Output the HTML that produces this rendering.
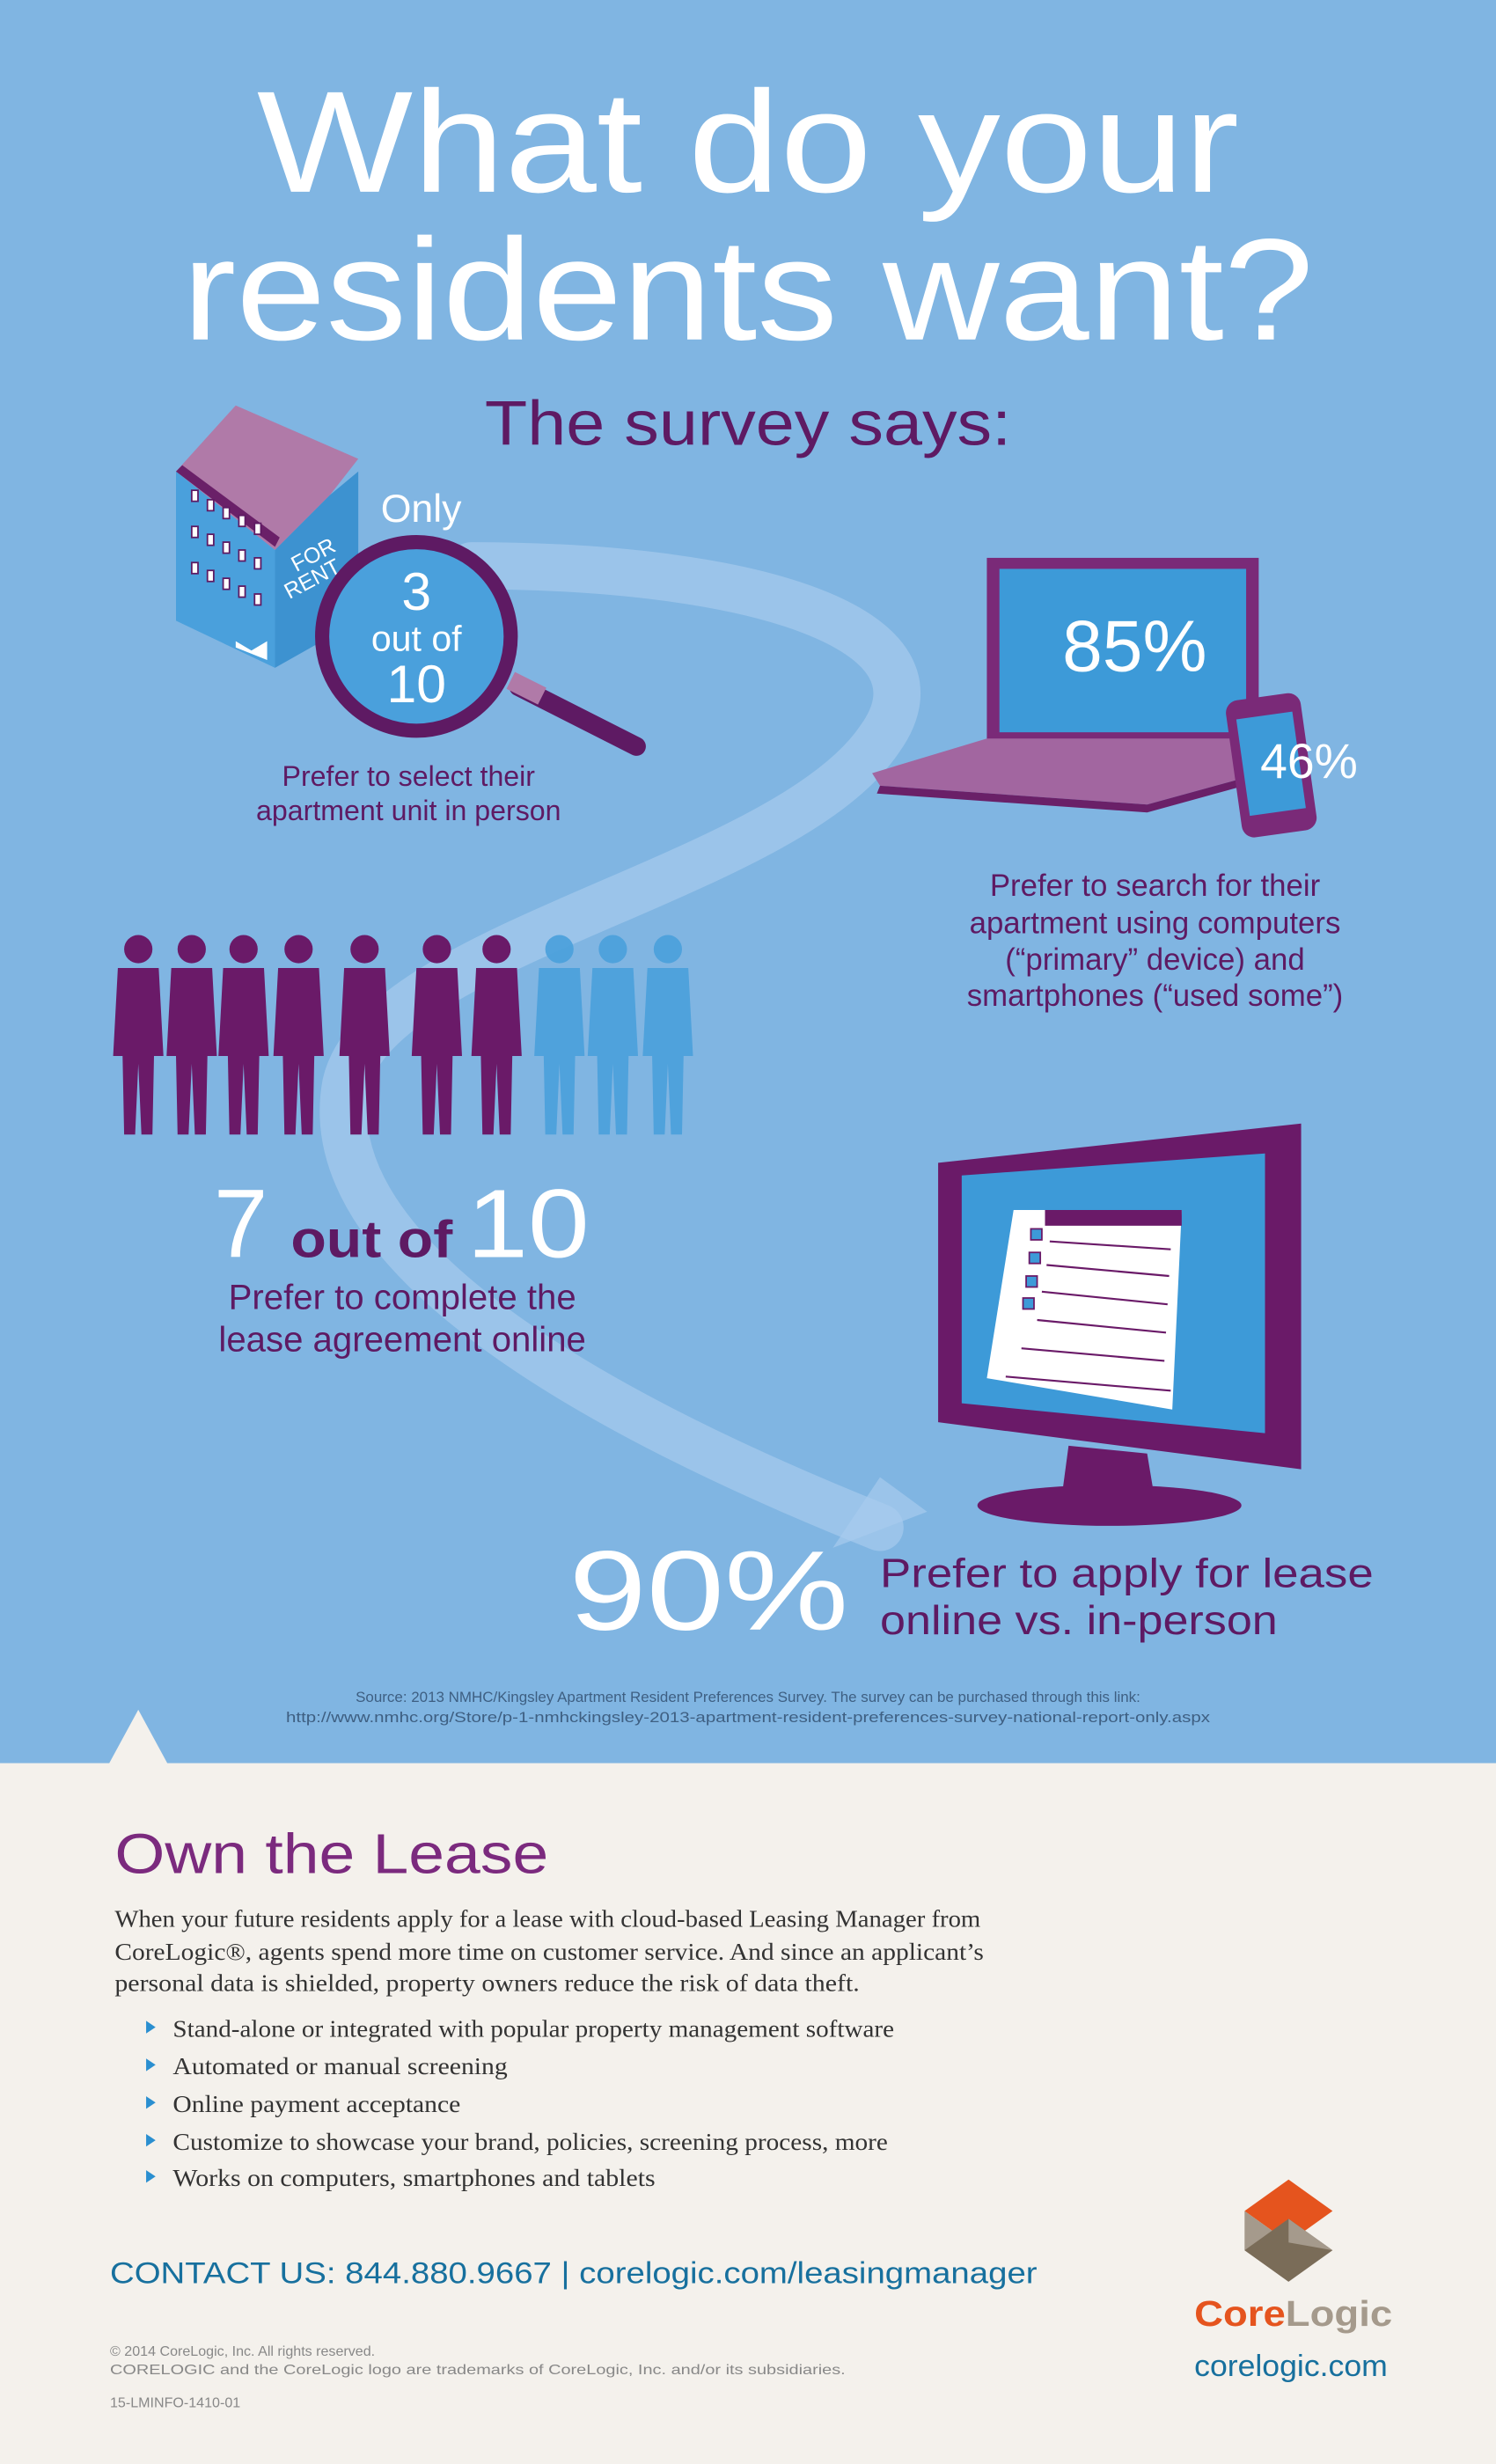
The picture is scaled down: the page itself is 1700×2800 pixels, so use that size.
<!DOCTYPE html>
<html><head><meta charset="utf-8"><style>
html,body{margin:0;padding:0;width:1700px;height:2800px;overflow:hidden;background:#80b5e2}
svg{display:block}
text{font-family:"Liberation Sans",sans-serif}
.s{font-family:"Liberation Serif",serif}
</style></head><body>
<svg width="1700" height="2800" viewBox="0 0 952 1568" preserveAspectRatio="none" xmlns="http://www.w3.org/2000/svg">
<rect x="0" y="0" width="952" height="1122" fill="#80b5e2"/>
<!-- swoosh -->
<path d="M300,360 C480,360 610,400 560,470 C500,560 240,600 220,690 C200,800 380,900 560,972" fill="none" stroke="#a9cdee" stroke-width="30" stroke-linecap="round" opacity="0.65"/>
<polygon points="530,985 590,962 560,940" fill="#a9cdee" opacity="0.65"/>
<!-- title -->
<text x="476" y="122" text-anchor="middle" font-size="92" fill="#fff" textLength="625" lengthAdjust="spacingAndGlyphs">What do your</text>
<text x="476" y="216" text-anchor="middle" font-size="92" fill="#fff" textLength="720" lengthAdjust="spacingAndGlyphs">residents want?</text>
<text x="476" y="283" text-anchor="middle" font-size="40" fill="#5e1a63" textLength="335" lengthAdjust="spacingAndGlyphs">The survey says:</text>
<!-- building -->
<polygon points="112,300 150,258 228,292 210,315 175,350" fill="#b07aa8"/>
<polygon points="112,300 175,350 175,425 112,395" fill="#4aa0dc"/>
<polygon points="175,350 210,315 228,300 228,395 175,425" fill="#3d92d0"/>
<polygon points="112,300 175,348 178,342 116,296" fill="#6a2068"/>
<g fill="#fff" stroke="#5e1a63" stroke-width="1">
<rect x="122" y="312" width="4" height="7"/><rect x="132" y="318" width="4" height="7"/><rect x="142" y="323" width="4" height="7"/><rect x="152" y="328" width="4" height="7"/><rect x="162" y="333" width="4" height="7"/>
<rect x="122" y="335" width="4" height="7"/><rect x="132" y="340" width="4" height="7"/><rect x="142" y="345" width="4" height="7"/><rect x="152" y="350" width="4" height="7"/><rect x="162" y="355" width="4" height="7"/>
<rect x="122" y="358" width="4" height="7"/><rect x="132" y="363" width="4" height="7"/><rect x="142" y="368" width="4" height="7"/><rect x="152" y="373" width="4" height="7"/><rect x="162" y="378" width="4" height="7"/>
</g>
<polygon points="150,408 160,414 170,408 170,420 150,412" fill="#fff"/>
<text x="185" y="360" font-size="14" fill="#fff" transform="rotate(-28 195 355)">FOR</text>
<text x="180" y="375" font-size="14" fill="#fff" transform="rotate(-28 195 370)">RENT</text>
<!-- magnifier -->
<line x1="330" y1="437" x2="405" y2="475" stroke="#5e1a63" stroke-width="12" stroke-linecap="round"/>
<line x1="325" y1="433" x2="345" y2="443" stroke="#b07aa8" stroke-width="12"/>
<circle cx="265" cy="405" r="60" fill="#4aa0dc" stroke="#5e1a63" stroke-width="9"/>
<text x="268" y="332" text-anchor="middle" font-size="25" fill="#fff">Only</text>
<text x="265" y="388" text-anchor="middle" font-size="34" fill="#fff">3</text>
<text x="265" y="414" text-anchor="middle" font-size="23" fill="#fff">out of</text>
<text x="265" y="447" text-anchor="middle" font-size="34" fill="#fff">10</text>
<text x="260" y="500" text-anchor="middle" font-size="18" fill="#5e1a63">Prefer to select their</text>
<text x="260" y="522" text-anchor="middle" font-size="18" fill="#5e1a63">apartment unit in person</text>
<!-- laptop -->
<rect x="628" y="355" width="173" height="118" fill="#7a2a78"/>
<rect x="636" y="362" width="157" height="104" fill="#3d9ad8"/>
<polygon points="555,492 628,470 800,470 810,490 730,512 560,500" fill="#a266a0"/>
<polygon points="560,500 730,512 810,490 810,495 730,517 558,505" fill="#6a2068"/>
<text x="722" y="427" text-anchor="middle" font-size="46" fill="#fff">85%</text>
<rect x="785" y="443" width="48" height="88" rx="8" fill="#7a2a78" transform="rotate(-8 809 487)"/>
<rect x="791" y="455" width="36" height="62" fill="#3d9ad8" transform="rotate(-8 809 487)"/>
<text x="833" y="495" text-anchor="middle" font-size="31" fill="#fff">46%</text>
<text x="735" y="570" text-anchor="middle" font-size="19.5" fill="#5e1a63">Prefer to search for their</text>
<text x="735" y="594" text-anchor="middle" font-size="19.5" fill="#5e1a63">apartment using computers</text>
<text x="735" y="617" text-anchor="middle" font-size="19.5" fill="#5e1a63">(“primary” device) and</text>
<text x="735" y="640" text-anchor="middle" font-size="19.5" fill="#5e1a63">smartphones (“used some”)</text>
<!-- people -->
<g fill="#6a1a68">
<g id="p"><circle cx="0" cy="-118" r="9"/><path d="M-13,-106 L13,-106 L16,-50 L10,-50 L9,0 L2,0 L0,-45 L-2,0 L-9,0 L-10,-50 L-16,-50 Z"/></g>
</g>
<g fill="#6a1a68">
<use href="#p" x="88" y="722"/><use href="#p" x="122" y="722"/><use href="#p" x="155" y="722"/><use href="#p" x="190" y="722"/><use href="#p" x="232" y="722"/><use href="#p" x="278" y="722"/><use href="#p" x="316" y="722"/>
</g>
<g fill="#4aa0dc" opacity="0.9"><use href="#p" x="356" y="722"/><use href="#p" x="390" y="722"/><use href="#p" x="425" y="722"/></g>
<text x="136" y="800" font-size="62" fill="#fff">7</text>
<text x="185" y="800" font-size="33" fill="#5e1a63" font-weight="bold" textLength="103" lengthAdjust="spacingAndGlyphs">out of</text>
<text x="297" y="800" font-size="62" fill="#fff" textLength="78" lengthAdjust="spacingAndGlyphs">10</text>
<text x="256" y="833" text-anchor="middle" font-size="22.5" fill="#5e1a63">Prefer to complete the</text>
<text x="256" y="860" text-anchor="middle" font-size="22.5" fill="#5e1a63">lease agreement online</text>
<!-- monitor -->
<polygon points="597,740 828,715 828,935 597,905" fill="#6a1a68"/>
<polygon points="612,748 805,734 805,912 612,893" fill="#3d9ad8"/>
<polygon points="680,920 730,925 735,955 676,950" fill="#6a1a68"/>
<ellipse cx="706" cy="958" rx="84" ry="13" fill="#6a1a68"/>
<polygon points="645,770 752,770 746,897 628,877" fill="#fff"/>
<rect x="665" y="770" width="87" height="10" fill="#6a1a68"/>
<g stroke="#6a1a68" stroke-width="1.2">
<line x1="668" y1="790" x2="745" y2="795"/><line x1="666" y1="805" x2="744" y2="812"/><line x1="663" y1="822" x2="743" y2="830"/><line x1="660" y1="840" x2="742" y2="848"/><line x1="650" y1="858" x2="741" y2="866"/><line x1="640" y1="876" x2="745" y2="885"/>
</g>
<g fill="#3d9ad8" stroke="#6a1a68" stroke-width="1"><rect x="656" y="782" width="7" height="7"/><rect x="655" y="797" width="7" height="7"/><rect x="653" y="812" width="7" height="7"/><rect x="651" y="826" width="7" height="7"/></g>
<text x="362" y="1037" font-size="72" fill="#fff" textLength="178" lengthAdjust="spacingAndGlyphs">90%</text>
<text x="560" y="1010" font-size="26" fill="#5e1a63" textLength="314" lengthAdjust="spacingAndGlyphs">Prefer to apply for lease</text>
<text x="560" y="1040" font-size="26" fill="#5e1a63" textLength="253" lengthAdjust="spacingAndGlyphs">online vs. in-person</text>
<text x="476" y="1083" text-anchor="middle" font-size="9.5" fill="#3e5f82">Source: 2013 NMHC/Kingsley Apartment Resident Preferences Survey. The survey can be purchased through this link:</text>
<text x="476" y="1096" text-anchor="middle" font-size="9.5" fill="#3e5f82" textLength="588" lengthAdjust="spacingAndGlyphs">http://www.nmhc.org/Store/p-1-nmhckingsley-2013-apartment-resident-preferences-survey-national-report-only.aspx</text>
<!-- bottom -->
<rect x="0" y="1122" width="952" height="446" fill="#f4f1ec"/>
<polygon points="69,1123 88,1088 107,1123" fill="#f4f1ec"/>
<text x="73" y="1192" font-size="36" fill="#7b2a7e" textLength="276" lengthAdjust="spacingAndGlyphs">Own the Lease</text>
<g class="s" font-size="15.5" fill="#333">
<text class="s" x="73" y="1226" textLength="551" lengthAdjust="spacingAndGlyphs">When your future residents apply for a lease with cloud-based Leasing Manager from</text>
<text class="s" x="73" y="1247" textLength="553" lengthAdjust="spacingAndGlyphs">CoreLogic®, agents spend more time on customer service. And since an applicant’s</text>
<text class="s" x="73" y="1267" textLength="474" lengthAdjust="spacingAndGlyphs">personal data is shielded, property owners reduce the risk of data theft.</text>
<text class="s" x="110" y="1296" textLength="459" lengthAdjust="spacingAndGlyphs">Stand-alone or integrated with popular property management software</text>
<text class="s" x="110" y="1320" textLength="213" lengthAdjust="spacingAndGlyphs">Automated or manual screening</text>
<text class="s" x="110" y="1344" textLength="183" lengthAdjust="spacingAndGlyphs">Online payment acceptance</text>
<text class="s" x="110" y="1368" textLength="455" lengthAdjust="spacingAndGlyphs">Customize to showcase your brand, policies, screening process, more</text>
<text class="s" x="110" y="1391" textLength="307" lengthAdjust="spacingAndGlyphs">Works on computers, smartphones and tablets</text>
</g>
<g fill="#2a8fd0"><polygon points="93,1286 99,1290 93,1294"/><polygon points="93,1310 99,1314 93,1318"/><polygon points="93,1334 99,1338 93,1342"/><polygon points="93,1358 99,1362 93,1366"/><polygon points="93,1381 99,1385 93,1389"/></g>
<text x="70" y="1453" font-size="19" fill="#17709e" textLength="590" lengthAdjust="spacingAndGlyphs">CONTACT US:  844.880.9667 | corelogic.com/leasingmanager</text>
<text x="70" y="1499" font-size="9" fill="#888">© 2014 CoreLogic, Inc. All rights reserved.</text>
<text x="70" y="1511" font-size="9" fill="#888" textLength="468" lengthAdjust="spacingAndGlyphs">CORELOGIC and the CoreLogic logo are trademarks of CoreLogic, Inc. and/or its subsidiaries.</text>
<text x="70" y="1532" font-size="9" fill="#888">15-LMINFO-1410-01</text>
<!-- logo -->
<polygon points="820,1387 848,1407 820,1427 792,1407" fill="#e5541e"/>
<polygon points="792,1407 820,1427 820,1452 792,1432" fill="#a59a8c"/>
<polygon points="820,1412 848,1432 820,1452 792,1432" fill="#7a6c58"/>
<polygon points="820,1412 848,1432 820,1427" fill="#a59a8c"/>
<text x="760" y="1480" font-size="23" font-weight="bold" fill="#e5541e" textLength="126" lengthAdjust="spacingAndGlyphs">Core<tspan fill="#a59a8c">Logic</tspan></text>
<text x="760" y="1512" font-size="19" fill="#17709e" textLength="123" lengthAdjust="spacingAndGlyphs">corelogic.com</text>
</svg>
</body></html>
